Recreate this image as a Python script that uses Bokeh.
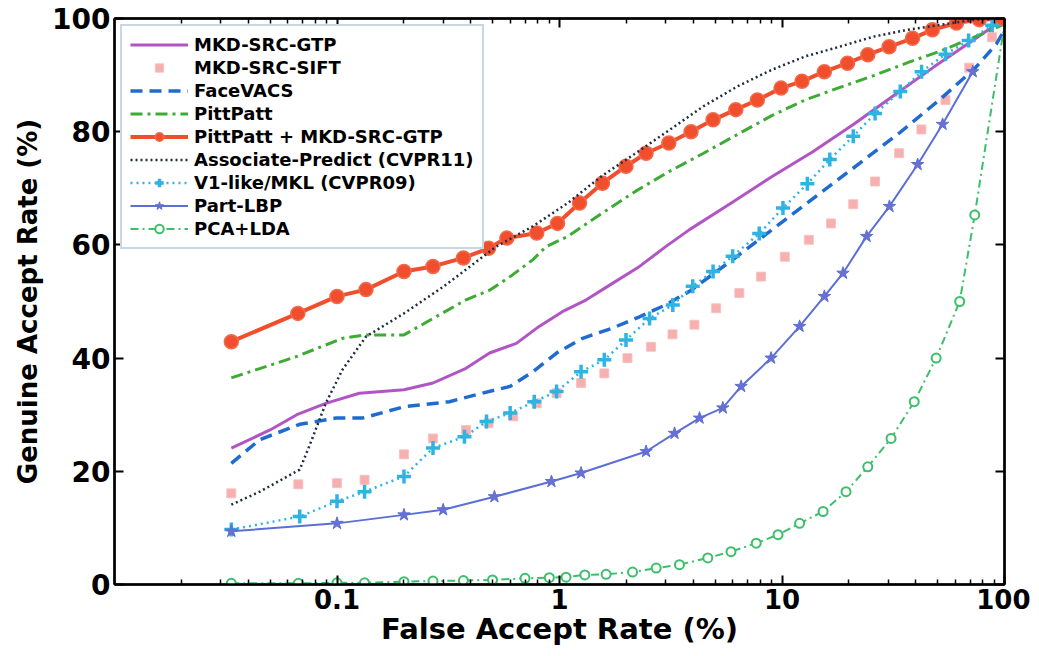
from bokeh.plotting import figure
from bokeh.models import Range1d, FixedTicker, LogAxis, LinearAxis
from bokeh.embed import file_html
from bokeh.resources import INLINE

# ---- data (FAR in %, GAR in %) ----
gtp_far = [0.0335, 0.05, 0.066, 0.089, 0.126, 0.2, 0.27, 0.38, 0.485, 0.64, 0.81, 1.03, 1.32, 1.73, 2.29, 3.0, 3.84, 5.87, 8.95, 13.7, 21, 31.8, 48.4, 68.8, 100]
gtp_gar = [24.1, 27.3, 30, 32, 33.8, 34.4, 35.6, 38.2, 40.9, 42.6, 45.6, 48.2, 50.3, 53.2, 56.2, 59.7, 62.7, 67.3, 72, 76.4, 81.3, 86.4, 91.5, 95.6, 100]

sift_far = [0.0335, 0.067, 0.1, 0.133, 0.2, 0.27, 0.38, 0.48, 0.62, 0.79, 0.97, 1.25, 1.59, 2.02, 2.58, 3.22, 4.04, 5.06, 6.43, 8.05, 10.3, 13.2, 16.6, 20.9, 26.2, 33.6, 42.3, 54.3, 69.4, 88]
sift_gar = [16.1, 17.7, 17.9, 18.5, 23, 25.8, 27.3, 28.5, 29.7, 32, 33.8, 35.6, 37.3, 40, 42, 44.2, 45.9, 48.8, 51.5, 54.4, 57.9, 60.9, 63.8, 67.2, 71.2, 76.2, 80.4, 85.6, 91.3, 96.7]

fv_far = [0.0335, 0.045, 0.068, 0.099, 0.13, 0.2, 0.32, 0.45, 0.6, 0.76, 0.97, 1.27, 1.73, 2.29, 3.0, 3.84, 6.3, 9.6, 14.7, 22.3, 34, 52, 74, 92, 100]
fv_gar = [21.4, 25.6, 28.3, 29.4, 29.4, 31.4, 32.3, 33.8, 35, 37.6, 40.9, 43.5, 45.3, 47.3, 49.4, 51.8, 58, 63.5, 69, 74.4, 79.9, 85.9, 91.3, 95.5, 98]

pp_far = [0.0335, 0.066, 0.106, 0.135, 0.2, 0.27, 0.38, 0.485, 0.6, 0.76, 0.87, 1.09, 1.54, 2.2, 3.12, 4.44, 6.3, 8.95, 12.7, 18.1, 25.8, 36.7, 52, 74, 100]
pp_gar = [36.5, 40.3, 43.5, 44.1, 44.1, 47, 50.3, 52, 54.4, 57.4, 59.7, 61.5, 65.5, 69.5, 73, 76.2, 79.5, 82.8, 85.6, 87.8, 89.9, 92.2, 94.3, 96.8, 99]

red_far = [0.0335, 0.0667, 0.1, 0.135, 0.2, 0.27, 0.37, 0.48, 0.58, 0.79, 0.98, 1.23, 1.56, 1.99, 2.45, 3.1, 3.9, 4.9, 6.2, 7.75, 9.9, 12.3, 15.5, 19.7, 24.3, 30.3, 38.6, 47.4, 60.8, 77, 97]
red_gar = [42.9, 47.9, 50.9, 52.1, 55.3, 56.2, 57.7, 59.4, 61.2, 62.1, 63.8, 67.4, 70.9, 73.9, 76.2, 78.0, 80.0, 82.1, 83.9, 85.6, 87.7, 88.9, 90.6, 92.1, 93.6, 95.0, 96.5, 98.0, 99.2, 99.8, 100]

ap_far = [0.0335, 0.045, 0.068, 0.075, 0.089, 0.106, 0.135, 0.2, 0.3, 0.52, 0.76, 1.09, 1.54, 2.2, 3.12, 4.44, 6.3, 8.95, 12.7, 18.1, 25.8, 36.7, 52, 74, 100]
ap_gar = [14.1, 16.4, 20.3, 24.4, 32, 38, 43.8, 47.9, 52.6, 59.7, 63.3, 67.4, 72.1, 76.2, 80.3, 84.5, 88, 90.9, 93.3, 95, 96.8, 98, 98.9, 99.8, 100]

v1_far = [0.0335, 0.068, 0.1, 0.133, 0.2, 0.27, 0.374, 0.47, 0.6, 0.77, 0.97, 1.25, 1.59, 1.99, 2.54, 3.23, 3.97, 4.9, 6.0, 7.9, 10.1, 13, 16.4, 20.9, 26.2, 34, 42.4, 54.3, 69, 88]
v1_gar = [9.7, 12, 14.7, 16.4, 19.1, 24.1, 26.1, 28.8, 30.3, 32.3, 34.1, 37.6, 39.7, 43.2, 47, 49.4, 52.7, 55.3, 58, 62, 66.5, 70.8, 75.1, 79.2, 83.2, 87.1, 90.6, 93.7, 96.1, 98.8]

lbp_far = [0.0335, 0.1, 0.2, 0.3, 0.51, 0.92, 1.25, 2.45, 3.29, 4.26, 5.42, 6.55, 8.93, 12, 15.5, 18.8, 24, 30.4, 40.7, 52.7, 72]
lbp_gar = [9.4, 10.8, 12.3, 13.2, 15.5, 18.2, 19.7, 23.5, 26.7, 29.4, 31.2, 35, 40, 45.6, 50.9, 55, 61.5, 66.8, 74.2, 81.3, 90.6]

pca_far = [0.0335, 0.067, 0.1, 0.133, 0.2, 0.27, 0.37, 0.5, 0.7, 0.9, 1.07, 1.3, 1.62, 2.13, 2.72, 3.46, 4.64, 5.9, 7.66, 9.6, 12, 15.3, 19.4, 24.3, 30.9, 39.3, 49.3, 62.9, 73.5, 88, 100]
pca_gar = [0.2, 0.2, 0.3, 0.3, 0.5, 0.6, 0.7, 0.8, 1.1, 1.2, 1.3, 1.7, 1.8, 2.2, 2.9, 3.5, 4.7, 5.8, 7.3, 8.8, 10.8, 12.9, 16.4, 20.8, 25.8, 32.3, 40, 50, 65.3, 85, 99]

far_ticks = [0.1, 1, 10, 100]
far_labels = ["0.1", "1", "10", "100"]
far_minor = [k * 10.0 ** e for e in range(-2, 2) for k in range(2, 10)]
gar_ticks = [0, 20, 40, 60, 80, 100]

FONT = "DejaVu Sans"

p = figure(frame_width=890, frame_height=566, x_axis_type="log",
           x_range=Range1d(0.01, 100), y_range=Range1d(0, 100),
           output_backend="svg", toolbar_location=None,
           min_border_left=114, min_border_right=26, min_border_top=18, min_border_bottom=58)
p.background_fill_color = "white"
p.border_fill_color = "white"
p.xgrid.visible = False
p.ygrid.visible = False
p.outline_line_color = "black"
p.outline_line_width = 2

# curves
p.line(gtp_far, gtp_gar, color="#b255c4", line_width=3, legend_label="MKD-SRC-GTP")
p.scatter(sift_far, sift_gar, marker="square", size=9, fill_color="#f6a2a2", line_color="#f9c0c0",
          alpha=0.85, legend_label="MKD-SRC-SIFT")
p.line(fv_far, fv_gar, color="#1f6bd0", line_width=3.5, line_dash="12 7", legend_label="FaceVACS")
p.line(pp_far, pp_gar, color="#3dab34", line_width=3, line_dash="12 5 3 5", legend_label="PittPatt")
p.line(red_far, red_gar, color="#f04e2c", line_width=4, legend_label="PittPatt + MKD-SRC-GTP")
p.scatter(red_far, red_gar, marker="circle", size=14, fill_color="#f04e2c", line_color="#f26a4c",
          line_width=1.5, legend_label="PittPatt + MKD-SRC-GTP")
p.line(ap_far, ap_gar, color="#1f2e3e", line_width=2.5, line_dash="2 3", legend_label="Associate-Predict (CVPR11)")
p.line(v1_far, v1_gar, color="#2fb3e3", line_width=2.5, line_dash="2 4", legend_label="V1-like/MKL (CVPR09)")
p.scatter(v1_far, v1_gar, marker="cross", size=14, line_color="#2fb3e3", line_width=3.5,
          legend_label="V1-like/MKL (CVPR09)")
p.line(lbp_far, lbp_gar, color="#5b6fd6", line_width=2, legend_label="Part-LBP")
p.scatter(lbp_far, lbp_gar, marker="star", size=13, fill_color="#6a6fd0", line_color="#5b6fd6",
          legend_label="Part-LBP")
p.line(pca_far, pca_gar, color="#3cbf6a", line_width=2, line_dash="8 4 2 4", legend_label="PCA+LDA")
p.scatter(pca_far[:-2], pca_gar[:-2], marker="circle", size=9, fill_color="white", line_color="#3cbf6a",
          line_width=2, legend_label="PCA+LDA")

# axes
def style_axis(ax):
    ax.axis_line_color = "black"
    ax.axis_line_width = 2.5
    ax.major_tick_line_color = "black"
    ax.major_tick_line_width = 2
    ax.minor_tick_line_color = "black"
    ax.minor_tick_line_width = 1.5
    ax.major_tick_in = 9
    ax.major_tick_out = 0
    ax.minor_tick_in = 5
    ax.minor_tick_out = 0

xa = p.xaxis[0]
xa.ticker = FixedTicker(ticks=far_ticks, minor_ticks=far_minor)
xa.major_label_overrides = {t: s for t, s in zip(far_ticks, far_labels)}
xa.axis_label = "False Accept Rate (%)"
style_axis(xa)
xa.major_label_text_font = FONT
xa.major_label_text_font_style = "bold"
xa.major_label_text_font_size = "26px"
xa.major_label_text_color = "black"
xa.major_label_standoff = 4
xa.axis_label_text_font = FONT
xa.axis_label_text_font_style = "bold"
xa.axis_label_text_font_size = "29px"
xa.axis_label_text_color = "black"
xa.axis_label_standoff = 0

ya = p.yaxis[0]
ya.ticker = FixedTicker(ticks=gar_ticks, minor_ticks=[])
ya.axis_label = "Genuine Accept Rate (%)"
style_axis(ya)
ya.major_label_text_font = FONT
ya.major_label_text_font_style = "bold"
ya.major_label_text_font_size = "28px"
ya.major_label_text_color = "black"
ya.major_label_standoff = 4
ya.axis_label_text_font = FONT
ya.axis_label_text_font_style = "bold"
ya.axis_label_text_font_size = "26px"
ya.axis_label_text_color = "black"
ya.axis_label_standoff = 6

top = LogAxis(ticker=FixedTicker(ticks=far_ticks, minor_ticks=far_minor),
              major_label_text_font_size="1px", major_label_text_color=None,
              major_label_standoff=0)
style_axis(top)
p.add_layout(top, "above")
right = LinearAxis(ticker=FixedTicker(ticks=gar_ticks, minor_ticks=[]),
                   major_label_text_font_size="1px", major_label_text_color=None,
                   major_label_standoff=0)
style_axis(right)
p.add_layout(right, "right")

# legend
lg = p.legend[0]
lg.location = "top_left"
lg.margin = 6
lg.padding = 8
lg.spacing = 2
lg.glyph_width = 58
lg.glyph_height = 21
lg.label_height = 21
lg.label_standoff = 6
lg.label_text_font = FONT
lg.label_text_font_style = "bold"
lg.label_text_font_size = "18px"
lg.label_text_color = "black"
lg.border_line_color = "#8fb0c8"
lg.border_line_width = 2
lg.background_fill_color = "white"
lg.background_fill_alpha = 1

open("out.html", "w").write(file_html(p, INLINE))
